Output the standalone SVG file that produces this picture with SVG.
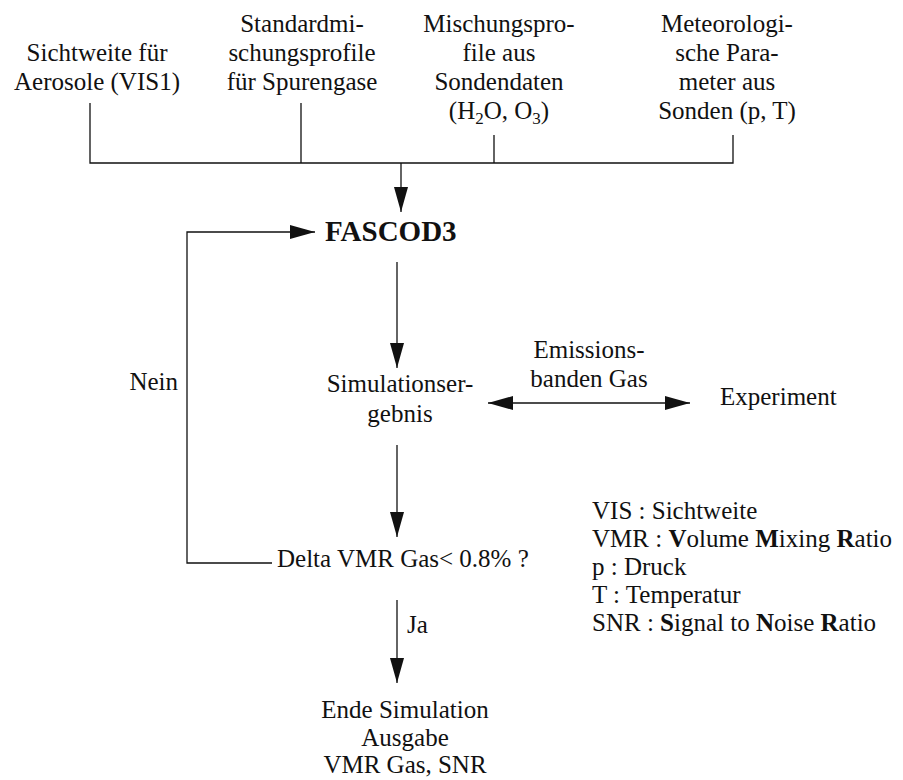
<svg xmlns="http://www.w3.org/2000/svg" width="903" height="780" viewBox="0 0 903 780" font-family="'Liberation Serif', 'DejaVu Serif', 'Noto Serif', serif">
  <style>
    text { font-family: "Liberation Serif", "DejaVu Serif", "Noto Serif", serif; font-size: 25px; fill: #111; }
    .c { text-anchor: middle; }
    .b { font-weight: bold; }
    .title { font-size: 29px; font-weight: bold; }
    .sub { font-size: 17px; }
    .wire { fill: none; stroke: #111; stroke-width: 1.3; }
  </style>
  <defs>
    <marker id="head" markerUnits="userSpaceOnUse" markerWidth="26" markerHeight="14" refX="25" refY="7" orient="auto-start-reverse">
      <path d="M0,0 L25,7 L0,14 z" fill="#111"/>
    </marker>
  </defs>

  <rect width="903" height="780" fill="#fff"/>

  <!-- input parameters -->
  <g id="input-vis">
    <text class="c" x="97" y="61">Sichtweite für</text>
    <text class="c" x="97" y="90">Aerosole (VIS1)</text>
  </g>
  <g id="input-standard">
    <text class="c" x="302" y="32">Standardmi-</text>
    <text class="c" x="302" y="61">schungsprofile</text>
    <text class="c" x="302" y="90">für Spurengase</text>
  </g>
  <g id="input-sonde">
    <text class="c" x="499" y="32">Mischungspro-</text>
    <text class="c" x="499" y="61">file aus</text>
    <text class="c" x="499" y="90">Sondendaten</text>
    <text class="c" x="499" y="119">(H<tspan class="sub" dy="5">2</tspan><tspan dy="-5">O, O</tspan><tspan class="sub" dy="5">3</tspan><tspan dy="-5">)</tspan></text>
  </g>
  <g id="input-meteo">
    <text class="c" x="727" y="32">Meteorologi-</text>
    <text class="c" x="727" y="61">sche Para-</text>
    <text class="c" x="727" y="90">meter aus</text>
    <text class="c" x="727" y="119">Sonden (p, T)</text>
  </g>

  <!-- processing chain -->
  <g id="fascod">
    <text class="title" x="325" y="241">FASCOD3</text>
  </g>
  <g id="simulation">
    <text class="c" x="400" y="392">Simulationser-</text>
    <text class="c" x="400" y="422">gebnis</text>
  </g>
  <g id="experiment">
    <text x="720" y="405">Experiment</text>
  </g>
  <g id="decision">
    <text x="277" y="567">Delta VMR Gas&lt; 0.8% ?</text>
  </g>
  <g id="end">
    <text class="c" x="405" y="718">Ende Simulation</text>
    <text class="c" x="405" y="746">Ausgabe</text>
    <text class="c" x="405" y="773">VMR Gas, SNR</text>
  </g>

  <!-- connectors -->
  <g id="connectors">
    <path class="wire" d="M90,103 V163 H733 V135 M301,103 V163 M494,135 V163"/>
    <path class="wire" d="M401,163 V212" marker-end="url(#head)"/>
    <path class="wire" d="M397,262 V368" marker-end="url(#head)"/>
    <path class="wire" d="M488,403 H690" marker-start="url(#head)" marker-end="url(#head)"/>
    <path class="wire" d="M397,445 V537" marker-end="url(#head)"/>
    <path class="wire" d="M272,563 H187 V232 H315" marker-end="url(#head)"/>
    <path class="wire" d="M397,600 V683" marker-end="url(#head)"/>
    <text x="589" y="358" class="c">Emissions-</text>
    <text x="589" y="387" class="c">banden Gas</text>
    <text x="178" y="390" text-anchor="end">Nein</text>
    <text x="407" y="633">Ja</text>
  </g>

  <!-- legend -->
  <g id="legend">
    <text x="592" y="519">VIS : Sichtweite</text>
    <text x="592" y="547">VMR : <tspan class="b">V</tspan>olume <tspan class="b">M</tspan>ixing <tspan class="b">R</tspan>atio</text>
    <text x="592" y="575">p : Druck</text>
    <text x="592" y="603">T : Temperatur</text>
    <text x="592" y="631">SNR : <tspan class="b">S</tspan>ignal to <tspan class="b">N</tspan>oise <tspan class="b">R</tspan>atio</text>
  </g>
</svg>
